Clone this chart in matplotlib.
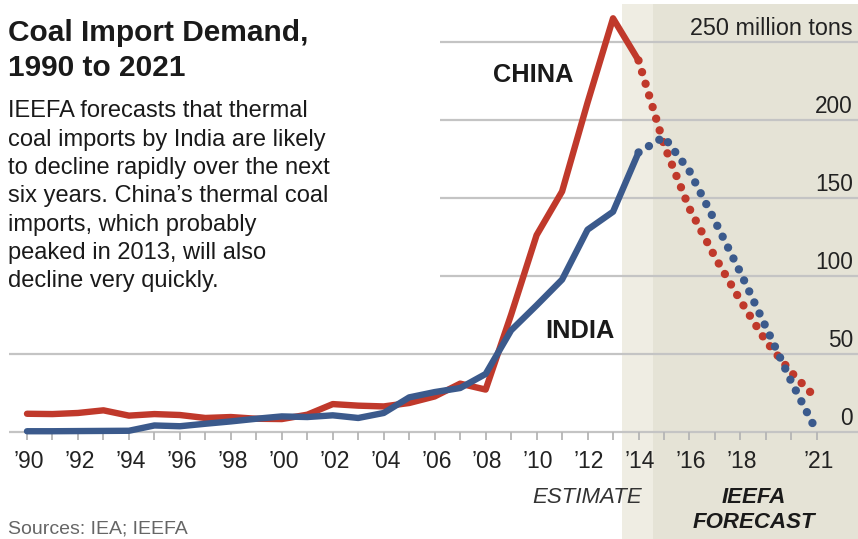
import matplotlib
matplotlib.use("Agg")
import matplotlib.pyplot as plt

# ---------------- data ----------------
years_actual = list(range(1990, 2015))
china_actual = [11.5, 11.3, 12, 13.7, 10.3, 11.3, 10.7, 8.8, 9.4, 8.3, 8.1, 10.9, 17.7,
                16.7, 16.2, 18.4, 22.6, 30.8, 27, 75, 126, 154, 211, 265, 238]
india_actual = [0.3, 0.3, 0.4, 0.5, 0.6, 4, 3.5, 5.1, 6.6, 8.3, 9.8, 9.4, 10.5,
                8.8, 12, 22, 25.4, 28, 37, 65, 81, 97.5, 129.5, 141, 179]

years_forecast = list(range(2014, 2022))
china_forecast = [238, 184, 143, 112, 84, 58, 38, 21]
india_forecast = [179, 189, 167, 135, 102, 67, 32, 0]

y_ticks = [0, 50, 100, 150, 200]
y_top_label = "250 million tons"
x_tick_years = [1990, 1992, 1994, 1996, 1998, 2000, 2002, 2004, 2006, 2008,
                2010, 2012, 2014, 2016, 2018, 2021]
x_tick_labels = ["\u201990", "\u201992", "\u201994", "\u201996", "\u201998", "\u201900",
                 "\u201902", "\u201904", "\u201906", "\u201908", "\u201910", "\u201912",
                 "\u201914", "\u201916", "\u201918", "\u201921"]

title_lines = ["Coal Import Demand,", "1990 to 2021"]
body_lines = ["IEEFA forecasts that thermal",
              "coal imports by India are likely",
              "to decline rapidly over the next",
              "six years. China\u2019s thermal coal",
              "imports, which probably",
              "peaked in 2013, will also",
              "decline very quickly."]

# ---------------- style ----------------
RED = "#c0392b"
BLUE = "#3b5a8c"
GRID = "#c4c4c4"
LIGHT = "#efede3"
DARK = "#e5e3d6"
TXT = "#1a1a1a"
FONT = "Liberation Sans"
plt.rcParams["font.family"] = [FONT, "DejaVu Sans"]

W, H = 858, 539
fig = plt.figure(figsize=(W / 100, H / 100), dpi=100)
ax = fig.add_axes([0, 0, 1, 1])
ax.set_axis_off()

# pixel <-> data mapping
X0, XS = 27.0, 25.48   # px of 1990, px per year
Y0, YS = 431.7, 1.56   # px of 0 (from top), px per unit


def xd(px):
    return 1990 + (px - X0) / XS


def yd(py):
    return (Y0 - py) / YS


ax.set_xlim(xd(0), xd(W))
ax.set_ylim(yd(H), yd(0))


def ftxt(x, y, s, **kw):
    fig.text(x / W, 1 - y / H, s, **kw)


# shaded estimate / forecast bands
ax.axvspan(xd(622), xd(653), ymin=0, ymax=1 - 4 / H, color=LIGHT, lw=0, zorder=0)
ax.axvspan(xd(653), xd(W), ymin=0, ymax=1 - 4 / H, color=DARK, lw=0, zorder=0)

# gridlines
for v in [0, 50]:
    ax.hlines(v, xd(9), xd(W), color=GRID, lw=1.6, zorder=1)
for v in [100, 150, 200, 250]:
    ax.hlines(v, xd(440), xd(W), color=GRID, lw=1.6, zorder=1)

# year tick marks
ax.vlines(list(range(1990, 2022)), yd(Y0 + 8), 0, color="#b5b5b5", lw=1.3, zorder=1)

# lines
ax.plot(years_actual, china_actual, color=RED, lw=4.6, solid_capstyle="round",
        solid_joinstyle="round", zorder=3)
ax.plot(years_actual, india_actual, color=BLUE, lw=4.6, solid_capstyle="round",
        solid_joinstyle="round", zorder=4)
ax.plot(years_forecast, china_forecast, color=RED, lw=6.0, linestyle=(0, (0.01, 1.45)),
        dash_capstyle="round", zorder=3)
ax.plot(years_forecast, india_forecast, color=BLUE, lw=6.0, linestyle=(0, (0.01, 1.45)),
        dash_capstyle="round", zorder=4)

# right-side value labels
for v in y_ticks:
    ax.annotate(str(v), xy=(1, v), xycoords=("axes fraction", "data"),
                xytext=(-3.6, 5), textcoords="offset points", ha="right",
                va="baseline", fontsize=16.3, color="#222222")
ax.annotate(y_top_label, xy=(1, 250), xycoords=("axes fraction", "data"),
            xytext=(-3.6, 5), textcoords="offset points", ha="right",
            va="baseline", fontsize=16.8, color="#222222")

# x tick labels
for yr, lab in zip(x_tick_years, x_tick_labels):
    ax.annotate(lab, xy=(yr, 0), xytext=(1.2, -25.9), textcoords="offset points",
                ha="center", va="baseline", fontsize=16.5, color="#222222")

# title and text
ftxt(8, 40.7, title_lines[0], fontsize=21.5, fontweight="bold", color=TXT, va="baseline")
ftxt(8, 76.5, title_lines[1], fontsize=21.5, fontweight="bold", color=TXT, va="baseline")
for i, line in enumerate(body_lines):
    ftxt(8, 117.3 + i * 28.3, line, fontsize=17, color=TXT, va="baseline")

ftxt(493, 82, "CHINA", fontsize=18.3, fontweight="bold", color=TXT, va="baseline")
ftxt(545, 338, "INDIA", fontsize=18.3, fontweight="bold", color=TXT, va="baseline")

ftxt(587, 503, "ESTIMATE", fontsize=16, style="italic", color="#333333",
     ha="center", va="baseline")
ftxt(754, 503, "IEEFA", fontsize=16, style="italic", fontweight="bold", color=TXT,
     ha="center", va="baseline")
ftxt(754, 528, "FORECAST", fontsize=16, style="italic", fontweight="bold", color=TXT,
     ha="center", va="baseline")

ftxt(8, 534, "Sources: IEA; IEEFA", fontsize=14, color="#666666", va="baseline")

fig.savefig("out.png", dpi=100)
